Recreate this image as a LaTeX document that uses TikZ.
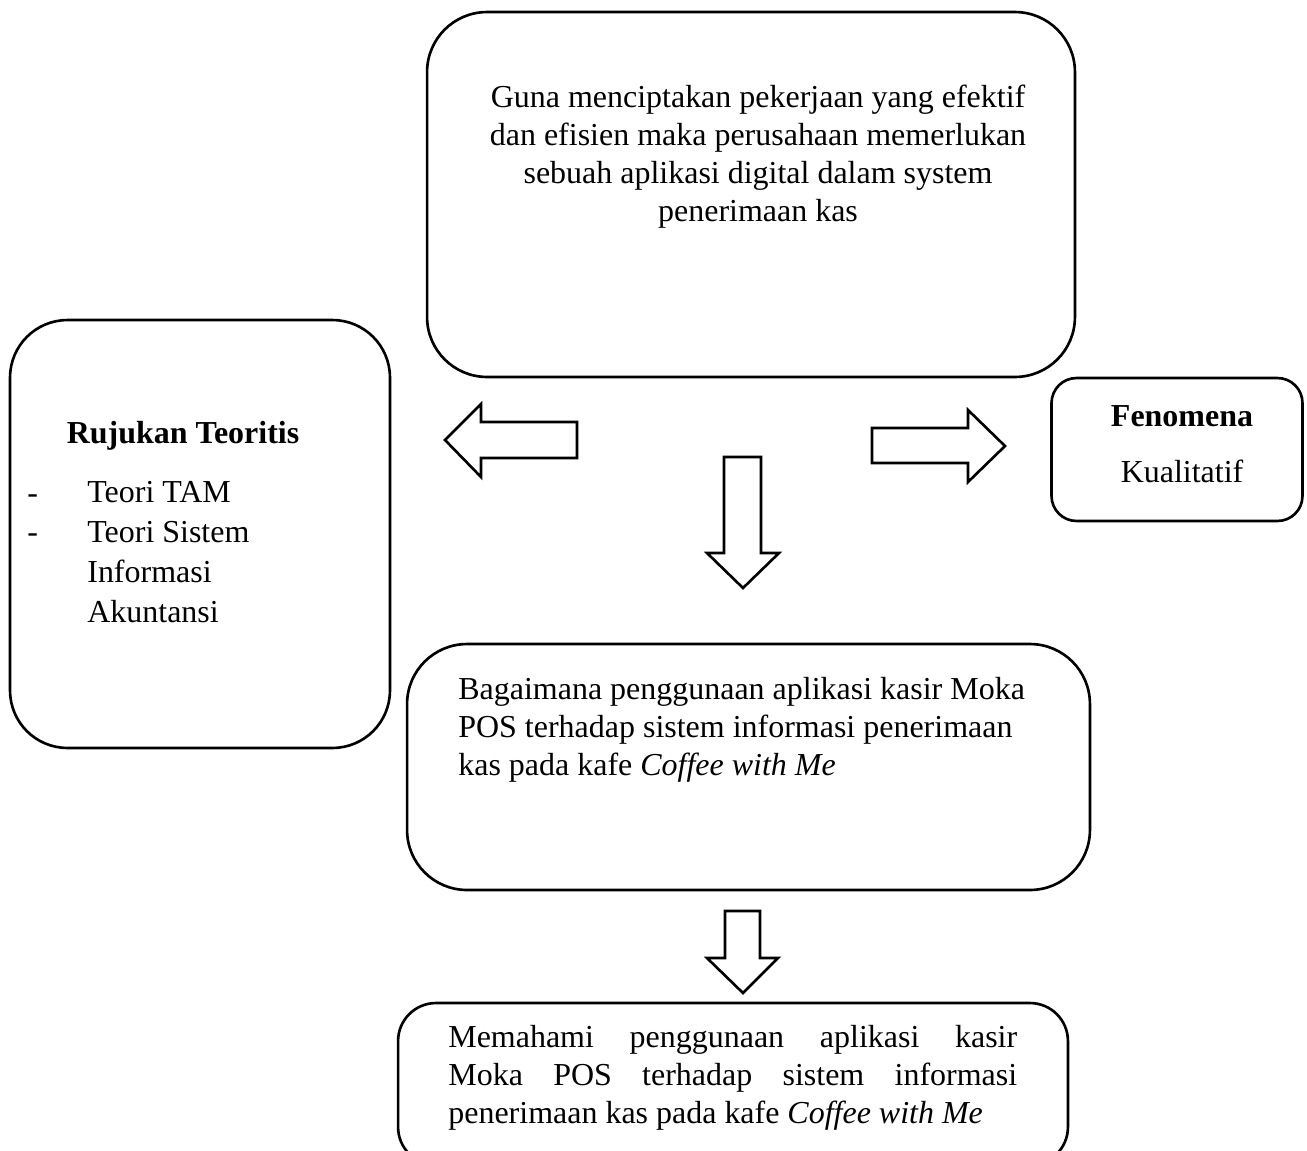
\documentclass[tikz,border=0pt]{standalone}
\usepackage{fontspec}
\setmainfont{Liberation Serif}
\usetikzlibrary{positioning}
\newcommand\ukuran{\fontsize{18.2}{21.6}\selectfont}
\tikzset{box/.style={draw, rounded corners=1.2cm, line width=1.5pt, inner sep=0pt},
         txt/.style={inner sep=0pt, font=\ukuran},
         blok/.style={draw, line width=1.5pt, line join=miter}}

\begin{document}
\begin{tikzpicture}[x=0.02cm, y=-0.02cm]
  \useasboundingbox (0,0) rectangle (1307,1150);
  \clip (0,0) rectangle (1307,1150);
  % kotak-kotak
  \node[box, minimum width=12.96cm, minimum height=7.3cm] (masalah) at (751,194.5) {};
  \node[box, rounded corners=1.15cm, minimum width=7.6cm, minimum height=8.56cm] (rujukan) at (200,534) {};
  \node[box, rounded corners=0.5cm, minimum width=5.02cm, minimum height=2.86cm] (fenomena) at (1177,449.5) {};
  \node[box, minimum width=13.66cm, minimum height=4.92cm] (rumusan) at (748.5,767) {};
  \node[box, rounded corners=0.76cm, minimum width=13.4cm, minimum height=3.24cm] (tujuan) at (733,1084) {};

  % teks
  \node[txt, align=center, anchor=north] (tmasalah) at (758,85)
    {Guna menciptakan pekerjaan yang efektif\\dan efisien maka perusahaan memerlukan\\sebuah aplikasi digital dalam system\\penerimaan kas};
  \node[txt, font=\ukuran\bfseries, anchor=base] (judul) at (183,443) {Rujukan Teoritis};
  \node[txt, anchor=base west] (d1) at (27,503) {-};
  \node[txt, anchor=base west] (d2) at (27,542) {-};
  \node[txt, font=\fontsize{18.2}{22.8}\selectfont, align=left, anchor=north west] (teori) at (87,481)
    {Teori TAM\\Teori Sistem\\Informasi\\Akuntansi};
  \node[txt, font=\ukuran\bfseries, anchor=base] (tfen) at (1182,426) {Fenomena};
  \node[txt, anchor=base] (kual) at (1182,482) {Kualitatif};
  \node[txt, align=left, anchor=north west] (trumusan) at (458,677)
    {Bagaimana penggunaan aplikasi kasir Moka\\POS terhadap sistem informasi penerimaan\\kas pada kafe \textit{Coffee with Me}};
  \node[txt, text width=11.38cm, align=justify, anchor=north west] (ttujuan) at (448,1025)
    {Memahami penggunaan aplikasi kasir\linebreak Moka POS terhadap sistem informasi\linebreak penerimaan kas pada kafe \textit{Coffee with Me}};

  % panah blok
  \coordinate (kiri) at (445,440);
  \draw[blok] (kiri) -- ++(36,-36) -- ++(0,18) -- ++(96,0) -- ++(0,36) -- ++(-96,0) -- ++(0,19) -- cycle;
  \coordinate (kanan) at (1005,446);
  \draw[blok] (kanan) -- ++(-37,-36) -- ++(0,18) -- ++(-96,0) -- ++(0,35) -- ++(96,0) -- ++(0,19) -- cycle;
  \coordinate (bawah1) at (743,588);
  \draw[blok] (bawah1) -- ++(36,-35) -- ++(-18,0) -- ++(0,-96) -- ++(-37,0) -- ++(0,96) -- ++(-17,0) -- cycle;
  \coordinate (bawah2) at (743,993);
  \draw[blok] (bawah2) -- ++(35,-35) -- ++(-18,0) -- ++(0,-47) -- ++(-35,0) -- ++(0,47) -- ++(-18,0) -- cycle;
\end{tikzpicture}
\end{document}
